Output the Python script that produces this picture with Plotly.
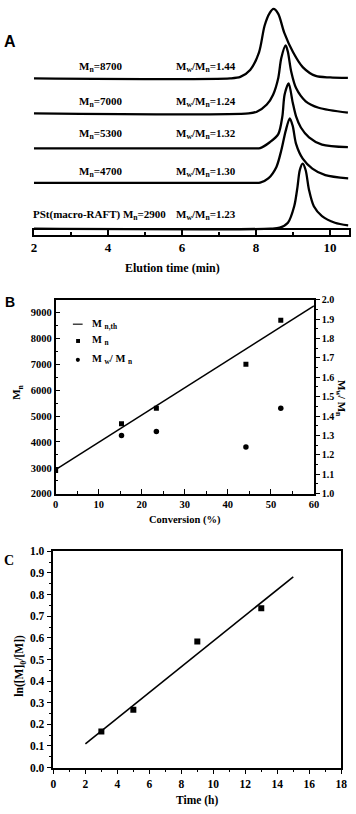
import plotly.graph_objects as go

# ---------------- Panel A: SEC traces (elution time, min / detector signal, a.u.) -------------
MN_A = ["8700", "7000", "5300", "4700", "2900"]
PDI_A = ["1.44", "1.24", "1.32", "1.30", "1.23"]

t1 = [2.0, 7.30, 7.575, 7.84, 8.08, 8.23, 8.37, 8.47, 8.60, 8.76, 9.00, 9.26, 9.61, 10.0, 10.48]
s1 = [0, 0, 1.5, 8.5, 26.5, 53.5, 66.5, 70.5, 65.5, 46.5, 26.5, 11.5, 2.5, 1.0, 0.5]

t2 = [2.0, 7.80, 8.02, 8.29, 8.46, 8.60, 8.68, 8.80, 8.86, 8.95, 9.08, 9.34, 9.69, 10.48]
s2 = [0, 0, 1.7, 9, 19, 36, 56, 69, 62.3, 42.3, 25.7, 12.3, 5.7, 0.7]

t3 = [2.0, 7.90, 8.11, 8.37, 8.60, 8.71, 8.77, 8.88, 8.99, 9.08, 9.21, 9.43, 9.78, 10.48]
s3 = [0, 0, 0.2, 6.2, 14.5, 32.5, 54.5, 66, 46.5, 32.5, 21.2, 11.2, 3.8, 1.2]

t4 = [2.0, 7.90, 8.11, 8.33, 8.55, 8.68, 8.80, 8.91, 8.99, 9.08, 9.26, 9.52, 9.87, 10.49]
s4 = [0, 0, 0.2, 4.5, 16.2, 32.8, 52.8, 65.5, 57.8, 39.5, 24.5, 14.5, 7.8, 4.5]

t5 = [2.0, 8.40, 8.64, 8.86, 9.03, 9.12, 9.18, 9.26, 9.34, 9.43, 9.56, 9.78, 10.13, 10.49]
s5 = [0, 0, 1, 6, 22.7, 42.7, 59.3, 66, 59.3, 39.3, 22.7, 12.7, 6, 3.3]

A_TICKS = [2, 4, 6, 8, 10]

# ---------------- Panel B: Mn and Mw/Mn vs conversion ----------------
CONV = [0, 15.3, 23.4, 44.2, 52.3]
MN = [2900, 4700, 5300, 7000, 8700]
CONV_PDI = [15.3, 23.4, 44.2, 52.3]
PDI = [1.30, 1.32, 1.24, 1.44]
MNTH_CONV = [0, 60]
MNTH = [2930, 9260]

# ---------------- Panel C: kinetics ----------------
TIME = [3, 5, 9, 13]
LNM = [0.167, 0.268, 0.583, 0.737]
FIT_T = [2, 15]
FIT_Y = [0.11, 0.882]

# ---------------- layout helpers ----------------
W, H = 356, 814
SERIF = "Liberation Serif"
SANS = "Liberation Sans"
BASE_PX = [73.5, 109, 144.5, 179.5, 226]   # vertical offsets of stacked traces (px)


def px(x):
    return x / W


def py(y):
    return 1 - y / H


def bfont(size, fam=SERIF):
    return dict(family=fam, size=size, color="black", weight="bold")


fig = go.Figure()

for t, s, b in zip([t1, t2, t3, t4, t5], [s1, s2, s3, s4, s5], BASE_PX):
    fig.add_trace(go.Scatter(x=t, y=[v - b for v in s], mode="lines", xaxis="x", yaxis="y",
                             line=dict(color="black", width=2.3, shape="spline", smoothing=0.8),
                             showlegend=False, hoverinfo="skip"))

fig.add_trace(go.Scatter(x=[], y=[], xaxis="x2", yaxis="y2", showlegend=False))

fig.add_trace(go.Scatter(x=MNTH_CONV, y=MNTH, mode="lines", xaxis="x3", yaxis="y3",
                         line=dict(color="black", width=1.5), showlegend=False))
fig.add_trace(go.Scatter(x=CONV, y=MN, mode="markers", xaxis="x3", yaxis="y3",
                         marker=dict(symbol="square", size=5, color="black"), showlegend=False))
fig.add_trace(go.Scatter(x=CONV_PDI, y=PDI, mode="markers", xaxis="x3", yaxis="y4",
                         marker=dict(symbol="circle", size=5.5, color="black"), showlegend=False))

fig.add_trace(go.Scatter(x=FIT_T, y=FIT_Y, mode="lines", xaxis="x4", yaxis="y5",
                         line=dict(color="black", width=1.6), showlegend=False))
fig.add_trace(go.Scatter(x=TIME, y=LNM, mode="markers", xaxis="x4", yaxis="y5",
                         marker=dict(symbol="square", size=6, color="black"), showlegend=False))

AX = dict(showgrid=False, zeroline=False, linecolor="black", tickcolor="black")

A_DOM_X = [px(31.7), px(354.6)]

fig.update_layout(
    width=W, height=H, margin=dict(l=0, r=0, t=0, b=0),
    paper_bgcolor="white", plot_bgcolor="rgba(0,0,0,0)", showlegend=False,
    xaxis=dict(domain=A_DOM_X, range=[2, 10.5], visible=False, anchor="y", **AX),
    yaxis=dict(domain=[py(232), 1], range=[-232, 0], visible=False, anchor="x", **AX),
    xaxis2=dict(domain=A_DOM_X, range=[2, 10.5], anchor="y2", showline=True, linewidth=1.5,
                mirror=True, ticks="inside", ticklen=6, tickwidth=1.5, tickvals=A_TICKS,
                minor=dict(ticks="inside", ticklen=3, tickwidth=1.5, tickvals=[3, 5, 7, 9], tickcolor="black"),
                tickfont=bfont(13), **AX),
    yaxis2=dict(domain=[py(232.5), py(227)], range=[0, 1], anchor="x2", showline=True, linewidth=1.5,
                mirror=True, showticklabels=False, ticks="", **AX),
    xaxis3=dict(domain=[px(54), px(319)], range=[0, 60], anchor="y3", showline=True, linewidth=1.5,
                mirror=True, ticks="inside", ticklen=5, tickwidth=1.3, dtick=10, tick0=0,
                minor=dict(ticks="inside", ticklen=3, dtick=5, tickcolor="black"),
                tickfont=bfont(10.5), **AX),
    yaxis3=dict(domain=[py(495), py(298)], range=[2000, 9500], anchor="x3", showline=True, linewidth=1.5,
                mirror=True, ticks="inside", ticklen=5, tickwidth=1.3, dtick=1000, tick0=2000,
                minor=dict(ticks="inside", ticklen=3, dtick=500, tickcolor="black"),
                tickfont=bfont(10.5), **AX),
    yaxis4=dict(domain=[py(495), py(298)], range=[1.0, 2.0], anchor="x3", overlaying="y3", side="right",
                showline=True, linewidth=1.5, ticks="outside", ticklen=4, tickwidth=1.3, dtick=0.1,
                tick0=1.0, tickformat=".1f",
                minor=dict(ticks="outside", ticklen=2, dtick=0.05, tickcolor="black"),
                tickfont=bfont(10), **AX),
    xaxis4=dict(domain=[px(51.7), px(347)], range=[0, 18], anchor="y5", showline=True, linewidth=1.5,
                mirror=True, ticks="outside", ticklen=5, tickwidth=1.3, dtick=2, tick0=0,
                minor=dict(ticks="outside", ticklen=3, dtick=1, tickcolor="black"),
                tickfont=bfont(11.5), **AX),
    yaxis5=dict(domain=[py(773), py(553.5)], range=[0, 1.0], anchor="x4", showline=True, linewidth=1.5,
                mirror=True, ticks="outside", ticklen=5, tickwidth=1.3, dtick=0.1, tick0=0,
                tickformat=".1f",
                minor=dict(ticks="outside", ticklen=3, dtick=0.05, tickcolor="black"),
                tickfont=bfont(11.5), **AX),
)

ann = []


def add_text(text, x, y, size=11, fam=SERIF, angle=0, xanchor="center"):
    ann.append(dict(text=text, x=px(x), y=py(y), xref="paper", yref="paper", showarrow=False,
                    xanchor=xanchor, yanchor="middle", textangle=angle, font=bfont(size, fam)))


# Panel A row labels
ROW_Y = [62, 97, 130, 168, 212]
for i, (mn, pdi, yy) in enumerate(zip(MN_A, PDI_A, ROW_Y)):
    if i < 4:
        add_text("M<sub>n</sub>=" + mn, 100, yy, 11)
    else:
        add_text("PSt(macro-RAFT) M<sub>n</sub>=" + mn, 99, yy, 11)
    add_text("M<sub>w</sub>/M<sub>n</sub>=" + pdi, 208, yy, 11)

add_text("Elution time (min)", 174, 266, 12)
add_text("A", 7, 36, 16, SANS)

# Panel B
add_text("B", 7, 300, 14, SANS)
add_text("Conversion (%)", 187, 521.5, 10.5)
add_text("M<sub>n</sub>", 15, 392, 11, angle=-90)
add_text("M<sub>w</sub>/ M<sub>n</sub>", 347, 398, 11, angle=90)
add_text("M <sub>n,th</sub>", 89, 323, 10.5, xanchor="left")
add_text("M <sub>n</sub>", 89, 340, 10.5, xanchor="left")
add_text("M <sub>w</sub>/ M <sub>n</sub>", 89, 359, 10.5, xanchor="left")

# Panel C
add_text("C", 6, 563, 14)
add_text("Time (h)", 199.5, 806, 11.5)
add_text("ln([M]<sub>0</sub>/[M])", 18, 670, 11.5, angle=-90)

shapes = [
    dict(type="line", xref="paper", yref="paper", x0=px(71.7), x1=px(81.7), y0=py(323), y1=py(323),
         line=dict(color="#444", width=1.5)),
    dict(type="rect", xref="paper", yref="paper", x0=px(75), x1=px(79), y0=py(342), y1=py(338),
         fillcolor="black", line=dict(width=0)),
    dict(type="circle", xref="paper", yref="paper", x0=px(74.7), x1=px(78.9), y0=py(361.2), y1=py(357),
         fillcolor="black", line=dict(width=0)),
]

fig.update_layout(annotations=ann, shapes=shapes)
fig.write_html(
    "out.html",
    config={"displayModeBar": False},
    post_script="document.body.style.margin='0px';document.body.style.overflow='hidden';",
)
